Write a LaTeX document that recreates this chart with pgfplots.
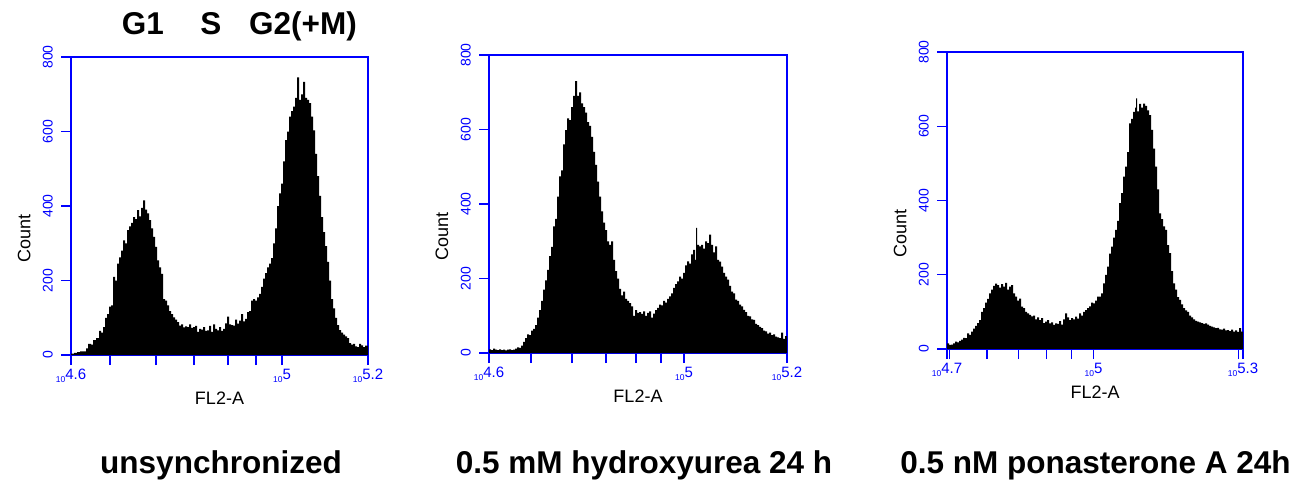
\documentclass[border=0pt]{standalone}
\usepackage{pgfplots}
\pgfplotsset{compat=1.18}
\usepackage{fontspec}
\setmainfont{Liberation Sans}
\newcommand{\tl}[1]{{\fontsize{8.5}{8.5}\selectfont 10}\raisebox{3pt}{\fontsize{15}{15}\selectfont #1}}
\pgfplotsset{flowax/.style={
  scale only axis,
  axis line style={blue, line width=1.2pt},
  every tick/.style={blue, line width=1.2pt},
  major tick length=10pt, tick align=outside,
  xtick pos=bottom, ytick pos=left,
  minor tick num=0,
  ymin=0, ymax=800,
  ytick={0,200,400,600,800},
  yticklabels={0,200,400,600,800},
  yticklabel shift=8pt,
  xticklabel shift=4pt,
  yticklabel style={rotate=90, anchor=south, text=blue, inner sep=0pt,
    font=\fontsize{14}{14}\selectfont},
  xticklabel style={anchor=north, text=blue, inner sep=0pt},
  xlabel={FL2-A}, ylabel={Count},
  label style={font=\fontsize{18}{18}\selectfont},
  xlabel style={at={(axis description cs:0.5,-0.145)}, anchor=center},
  ylabel style={at={(axis description cs:-0.158,0.39)}, anchor=center},
  clip=true,
}}
\begin{document}
\begin{tikzpicture}[x=1pt,y=1pt]
\useasboundingbox (0,0) rectangle (1300,480);
% ---------- panel 1 ----------
\begin{axis}[flowax, at={(71pt,125pt)}, anchor=south west, width=297pt, height=298pt,
  xmin=0, xmax=297,
  xtick={0,39,85,123,157,185,211,297},
  xticklabels={\tl{4.6},,,,,,\tl{5},\tl{5.2}}]
\addplot[fill=black, draw=none, const plot] coordinates {(0,0)
(0,4) (3,6) (6,8) (9,10) (12,10) (15,18) (17,30) (20,28) (22,40) (25,45) (28,65) (30,60)
(32,75) (34,100) (36,110) (38,130) (40,133) (42,210) (44,200) (46,245) (48,262) (50,280)
(52,308) (54,300) (56,335) (58,345) (60,355) (62,370) (64,365) (66,389) (68,372) (70,395)
(72,415) (74,390) (76,380) (78,362) (80,340) (82,317) (84,290) (86,254) (88,235) (90,218)
(92,150) (94,146) (96,133) (98,118) (100,110) (102,101) (104,95) (106,88) (108,79) (110,82)
(112,74) (114,77) (116,75) (118,82) (120,73) (122,75) (124,78) (126,62) (128,70) (130,68)
(132,75) (134,65) (136,66) (138,78) (140,62) (142,82) (144,70) (146,66) (148,75) (150,65)
(152,70) (154,85) (156,103) (158,82) (160,80) (162,79) (164,95) (166,84) (168,92) (170,110)
(172,90) (174,97) (176,115) (178,118) (180,146) (182,150) (184,146) (186,155) (188,164)
(190,183) (192,205) (194,220) (196,235) (198,245) (200,260) (202,300) (204,340) (206,400)
(208,434) (210,460) (212,520) (214,577) (216,600) (218,640) (220,655) (222,667) (224,690)
(226,745) (228,685) (230,700) (232,733) (234,690) (236,685) (238,676) (240,640) (242,603)
(244,540) (246,480) (248,427) (250,370) (252,330) (254,292) (256,250) (258,200) (260,150)
(262,125) (264,100) (266,80) (268,67) (270,60) (272,55) (274,50) (276,45) (278,32) (280,28)
(282,30) (284,23) (286,21) (288,30) (290,26) (292,21) (294,25) (297,25) (297,0)};
\end{axis}
% ---------- panel 2 ----------
\begin{axis}[flowax, at={(489pt,127pt)}, anchor=south west, width=298pt, height=298pt,
  xmin=0, xmax=298,
  xtick={0,42,83,117,147,172,195,298},
  xticklabels={\tl{4.6},,,,,,\tl{5},\tl{5.2}}]
\addplot[fill=black, draw=none, const plot] coordinates {(0,0)
(0,10) (2,8) (4,12) (6,9) (8,8) (10,10) (12,8) (14,9) (16,7) (18,9) (20,10) (22,8) (24,9)
(26,12) (28,15) (30,14) (32,20) (34,30) (36,40) (38,50) (40,48) (42,60) (44,65) (46,75)
(48,95) (50,115) (52,140) (54,170) (56,195) (58,223) (60,260) (62,285) (64,340) (66,360)
(68,420) (70,474) (72,490) (74,560) (76,598) (78,630) (80,625) (82,660) (84,690) (86,730)
(88,690) (90,700) (92,670) (94,660) (96,645) (98,620) (100,610) (102,580) (104,540)
(106,505) (108,460) (110,420) (112,380) (114,350) (116,330) (118,300) (120,290) (122,300)
(124,250) (126,220) (128,200) (130,172) (132,155) (134,165) (136,145) (138,140) (140,134)
(142,125) (144,100) (146,115) (148,108) (150,110) (152,105) (154,112) (156,100) (158,108)
(160,112) (162,95) (164,106) (166,115) (168,121) (170,130) (172,128) (174,140) (176,135)
(178,145) (180,152) (182,160) (184,175) (186,185) (188,192) (190,205) (192,200) (194,215)
(196,235) (198,246) (200,240) (202,265) (204,277) (206,250) (207,336) (208,290) (210,286)
(212,290) (214,280) (216,300) (218,295) (220,318) (222,290) (224,270) (226,286) (228,250)
(230,245) (232,232) (234,215) (236,205) (238,197) (240,180) (242,165) (244,160) (246,143)
(248,140) (250,130) (252,125) (254,116) (256,110) (258,100) (260,98) (262,90) (264,89)
(266,78) (268,75) (270,70) (272,67) (274,60) (276,58) (278,52) (280,55) (282,48) (284,50)
(286,44) (288,42) (290,40) (292,55) (294,38) (296,45) (298,45) (298,0)};
\end{axis}
% ---------- panel 3 ----------
\begin{axis}[flowax, at={(947pt,131pt)}, anchor=south west, width=296pt, height=297pt,
  xmin=0, xmax=296,
  xtick={0,2.3,40,71.5,99.5,124.5,146.5,291.5,296},
  xticklabels={\tl{4.7},,,,,,\tl{5},,\tl{5.3}}]
\addplot[fill=black, draw=none, const plot] coordinates {(0,0)
(0,15) (2,11) (4,12) (6,15) (8,20) (10,18) (12,22) (14,25) (16,30) (18,29) (20,42) (22,38)
(24,47) (26,55) (28,62) (30,70) (32,78) (34,100) (36,110) (38,125) (40,135) (42,150)
(44,160) (46,170) (48,176) (50,172) (52,165) (54,175) (56,168) (58,178) (60,160) (62,168)
(64,172) (66,150) (68,141) (70,130) (72,136) (74,114) (76,110) (78,100) (80,96) (82,92)
(84,88) (86,90) (88,80) (90,85) (92,78) (94,83) (96,70) (98,74) (100,78) (102,69) (104,72)
(106,65) (108,69) (110,68) (112,75) (114,66) (116,80) (118,96) (120,85) (122,78) (124,83)
(126,80) (128,87) (130,82) (132,96) (134,90) (136,100) (138,105) (140,110) (142,115)
(144,125) (146,123) (148,130) (150,141) (152,141) (154,150) (156,177) (158,200) (160,222)
(162,257) (164,276) (166,300) (168,321) (170,345) (172,393) (174,420) (176,464) (178,491)
(180,530) (182,608) (184,620) (186,639) (188,650) (189,675) (190,640) (192,660) (194,650)
(196,661) (198,655) (200,643) (202,630) (204,590) (206,540) (208,491) (210,430) (212,365)
(214,350) (216,330) (218,321) (220,280) (222,258) (224,210) (226,177) (228,160) (230,140)
(232,132) (234,120) (236,110) (238,104) (240,100) (242,90) (244,85) (246,80) (248,76)
(250,74) (252,72) (254,70) (256,68) (258,69) (260,66) (262,62) (264,60) (266,58) (268,56)
(270,57) (272,53) (274,52) (276,55) (278,50) (280,51) (282,48) (284,52) (286,47) (288,50)
(290,46) (292,56) (294,47) (296,42) (296,0)};
\end{axis}
% ---------- texts ----------
\begin{scope}[every node/.style={font=\fontsize{31.5}{31.5}\selectfont\bfseries, anchor=base, inner sep=0pt}]
\node at (143,445) {G1};
\node at (211,445) {S};
\node at (303,445) {G2(+M)};
\node at (221,7) {unsynchronized};
\node at (644,7) {0.5 mM hydroxyurea 24 h};
\node at (1095.5,7) {0.5 nM ponasterone A 24h};
\end{scope}
\end{tikzpicture}
\end{document}
